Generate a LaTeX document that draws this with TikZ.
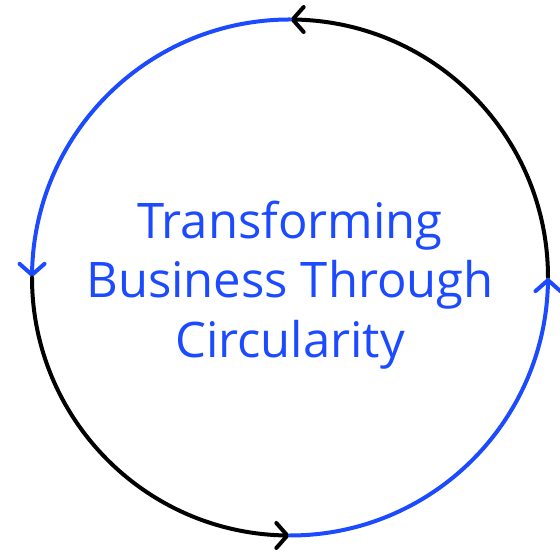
\documentclass[tikz,border=0pt]{standalone}
\usepackage{fontspec}
\setmainfont{Open Sans}
\usetikzlibrary{arrows.meta,bending}
\definecolor{brandblue}{RGB}{28,74,255}
\tikzset{
  ring/.style={line width=4pt, line cap=round,
    -{Straight Barb[length=11pt,width=25pt,line width=4pt,line cap=round,flex]}},
  ringblack/.style={ring, draw=black},
  ringblue/.style={ring, draw=brandblue},
  title/.style={align=center, text=brandblue,
    font={\fontsize{49}{59.5}\selectfont}}
}
\begin{document}
\begin{tikzpicture}[x=1pt,y=1pt]
\useasboundingbox (0,0) rectangle (560,553);
\coordinate (c) at (290,275.5);
\def\R{258}
\draw[ringblack] (c) ++(0:\R) arc[start angle=0,end angle=90,radius=\R];
\draw[ringblue] (c) ++(90:\R) arc[start angle=90,end angle=180,radius=\R];
\draw[ringblack] (c) ++(180:\R) arc[start angle=180,end angle=270,radius=\R];
\draw[ringblue] (c) ++(270:\R) arc[start angle=270,end angle=360,radius=\R];
\node[title] (t) at (290,268) {Transforming\\Business Through\\Circularity};
\end{tikzpicture}
\end{document}
